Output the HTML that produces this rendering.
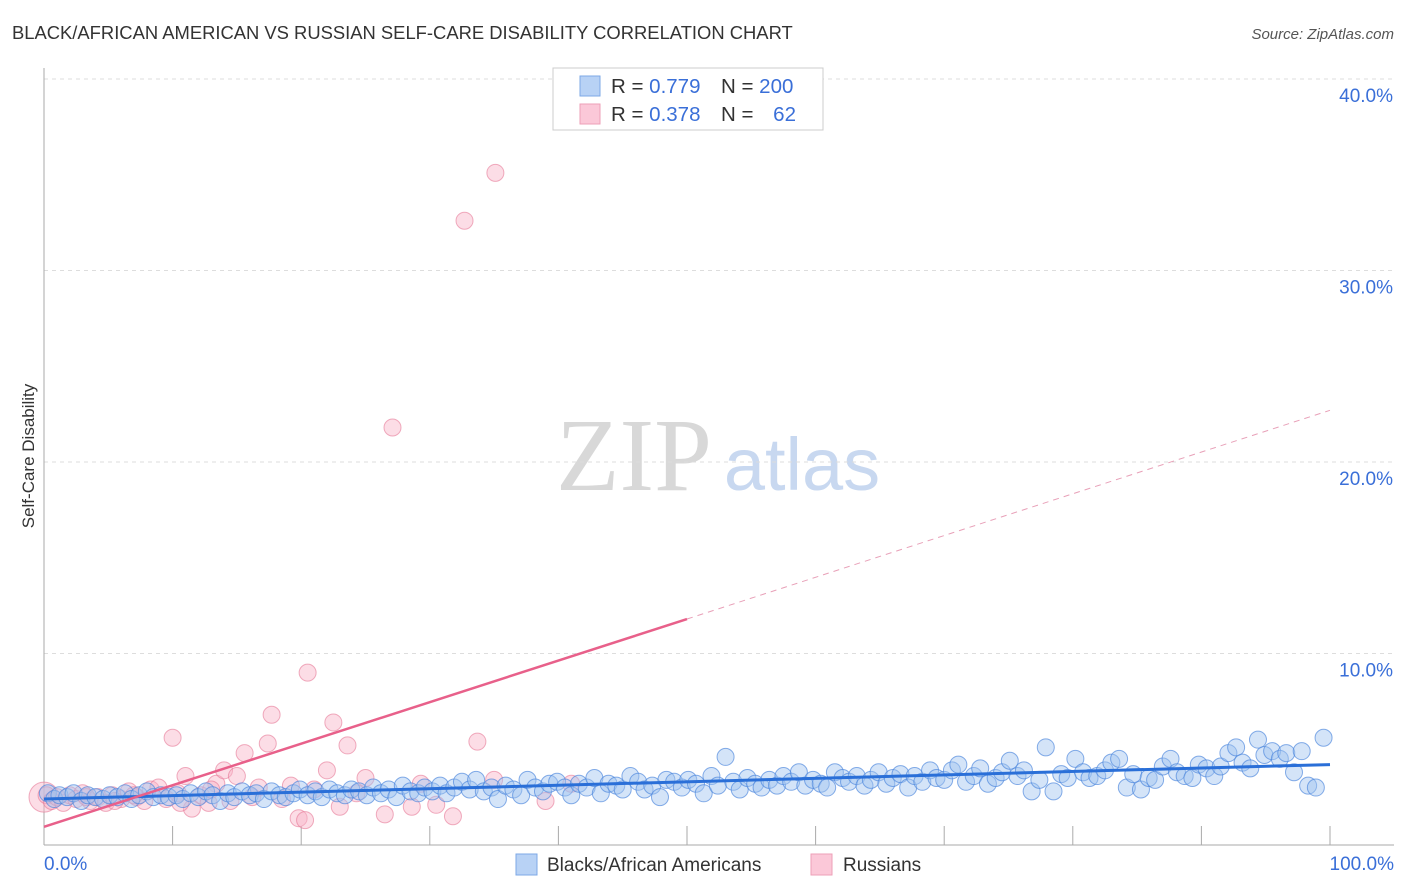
<!DOCTYPE html>
<html><head><meta charset="utf-8"><style>
body{margin:0;background:#fff;font-family:"Liberation Sans",sans-serif;}
#wrap{position:relative;width:1406px;height:892px;overflow:hidden;}
</style></head><body>
<div id="wrap">
<svg id="chart" width="1406" height="892" xmlns="http://www.w3.org/2000/svg">
<text x="12" y="39" font-size="18.4" fill="#333">BLACK/AFRICAN AMERICAN VS RUSSIAN SELF-CARE DISABILITY CORRELATION CHART</text>
<text x="1394" y="39" font-size="15" fill="#555" font-style="italic" text-anchor="end">Source: ZipAtlas.com</text>
<text x="34" y="456" font-size="17" fill="#333" text-anchor="middle" transform="rotate(-90 34 456)">Self-Care Disability</text>
<g><text x="634" y="490" font-size="104" fill="#d8d8d8" font-family="Liberation Serif,serif" text-anchor="middle">ZIP</text><text x="802" y="490" font-size="74" fill="#c8d8f0" text-anchor="middle">atlas</text></g>
<g id="grid"></g><g id="axes"></g><g id="pink"></g><g id="blue"></g><g id="trend"></g>
<g>
<rect x="553" y="68" width="270" height="62" fill="#fff" stroke="#ccc"/>
<rect x="580" y="76" width="20" height="20" fill="#b8d2f5" stroke="#7ea8e6"/>
<rect x="580" y="104" width="20" height="20" fill="#fbc8d8" stroke="#ee9fb7"/>
<text x="611" y="93" font-size="20.5" fill="#333">R = <tspan fill="#3a6fd8">0.779</tspan></text><text x="721" y="93" font-size="20.5" fill="#333">N = <tspan fill="#3a6fd8">200</tspan></text>
<text x="611" y="121" font-size="20.5" fill="#333">R = <tspan fill="#3a6fd8">0.378</tspan></text><text x="721" y="121" font-size="20.5" fill="#333">N = <tspan fill="#3a6fd8" dx="14">62</tspan></text>
</g>
<g>
<rect x="516" y="854" width="21" height="21" fill="#b8d2f5" stroke="#7ea8e6"/><text x="547" y="871" font-size="19" fill="#333">Blacks/African Americans</text>
<rect x="811" y="854" width="21" height="21" fill="#fbc8d8" stroke="#ee9fb7"/><text x="843" y="871" font-size="19" fill="#333">Russians</text>
</g>
</svg></div>
<script>
const yTicks=[10,20,30,40];
const xTickLabels=["0.0%","100.0%"];
const blueX=[0.3,0.8,1.2,1.8,2.3,2.9,3.4,4.0,4.6,5.1,5.7,6.3,6.8,7.4,8.0,8.5,9.1,9.7,
10.3,10.8,11.4,12.0,12.6,13.1,13.7,14.3,14.8,15.4,16.0,16.5,17.1,17.7,18.3,18.8,19.4,19.9,
20.5,21.1,21.6,22.2,22.8,23.4,23.9,24.5,25.1,25.6,26.2,26.8,27.4,27.9,28.5,29.1,29.6,
30.2,30.8,31.3,31.9,32.5,33.1,33.6,34.2,34.8,35.3,35.9,36.5,37.1,37.6,38.2,38.8,39.3,39.9,
40.5,41.0,41.6,42.2,42.8,43.3,43.9,44.5,45.0,45.6,46.2,46.7,47.3,47.9,48.4,49.0,49.6,
50.1,50.7,51.3,51.9,52.4,53.0,53.6,54.1,54.7,55.3,55.8,56.4,57.0,57.5,58.1,58.7,59.2,59.8,
60.4,60.9,61.5,62.1,62.6,63.2,63.8,64.3,64.9,65.5,66.0,66.6,67.2,67.7,68.3,68.9,69.4,
70.0,70.6,71.1,71.7,72.3,72.8,73.4,74.0,74.5,75.1,75.7,76.2,76.8,77.4,77.9,78.5,79.1,79.6,
80.2,80.8,81.3,81.9,82.5,83.0,83.6,84.2,84.7,85.3,85.9,86.4,87.0,87.6,88.1,88.7,89.3,89.8,
90.4,91.0,91.5,92.1,92.7,93.2,93.8,94.4,94.9,95.5,96.1,96.6,97.2,97.8,98.3,98.9,99.5];
const blueY=[2.7,2.4,2.6,2.5,2.7,2.3,2.6,2.5,2.4,2.6,2.5,2.7,2.4,2.6,2.8,2.5,2.6,2.5,
2.6,2.4,2.7,2.5,2.8,2.6,2.3,2.7,2.5,2.8,2.6,2.7,2.4,2.8,2.6,2.5,2.7,2.9,
2.6,2.8,2.5,2.9,2.7,2.6,2.9,2.8,2.6,3.0,2.7,2.9,2.5,3.1,2.8,2.7,3.0,
2.8,3.1,2.7,3.0,3.3,2.9,3.4,2.8,3.0,2.4,3.1,2.9,2.6,3.4,3.0,2.8,3.2,3.3,
3.0,2.6,3.2,3.0,3.5,2.7,3.2,3.1,2.9,3.6,3.3,2.9,3.1,2.5,3.4,3.3,3.0,
3.4,3.2,2.7,3.6,3.1,4.6,3.3,2.9,3.5,3.2,3.0,3.4,3.1,3.6,3.3,3.8,3.1,3.4,
3.2,3.0,3.8,3.5,3.3,3.6,3.1,3.4,3.8,3.2,3.5,3.7,3.0,3.6,3.3,3.9,3.5,
3.4,3.9,4.2,3.3,3.6,4.0,3.2,3.5,3.8,4.4,3.6,3.9,2.8,3.4,5.1,2.8,3.7,3.5,
4.5,3.8,3.5,3.6,3.9,4.3,4.5,3.0,3.7,2.9,3.5,3.4,4.1,4.5,3.8,3.6,3.5,4.2,
4.0,3.6,4.1,4.8,5.1,4.3,4.0,5.5,4.7,4.9,4.5,4.8,3.8,4.9,3.1,3.0,5.6];
const pinkX=[0.2,0.6,1.0,1.5,2.0,2.5,3.0,3.6,4.2,4.8,5.3,6.0,6.6,7.2,7.8,8.3,8.9,9.5,10.0,10.4,11.0,11.5,12.2,12.8,13.4,14.0,14.5,15.0,15.6,16.2,16.7,17.4,17.7,18.5,19.2,20.5,19.8,20.3,21.0,22.0,22.5,23.0,23.6,24.3,26.5,25.0,27.1,28.6,29.3,30.5,31.8,32.7,33.7,35.1,35.0,39.0,41.0,10.6,13.0,3.3,5.5,7.0];
const pinkY=[2.6,2.3,2.5,2.2,2.6,2.4,2.7,2.3,2.5,2.2,2.6,2.4,2.8,2.5,2.3,2.9,3.0,2.4,5.6,2.7,3.6,1.9,2.6,2.2,3.2,3.9,2.3,3.6,4.8,2.5,3.0,5.3,6.8,2.4,3.1,9.0,1.4,1.3,2.9,3.9,6.4,2.0,5.2,2.7,1.6,3.5,21.8,2.0,3.2,2.1,1.5,32.6,5.4,35.1,3.4,2.3,3.2,2.2,2.9,2.5,2.3,2.6];
const blueTrend=[2.4,4.2];
const pinkTrend=[0.95,11.8,22.7];
const NS="http://www.w3.org/2000/svg";
const X0=44,X1=1330,Y0=845,PPY=19.15;
function sx(v){return X0+(X1-X0)*v/100;}
function sy(v){return Y0-v*PPY;}
function mk(tag,attrs,parent){const e=document.createElementNS(NS,tag);for(const k in attrs)e.setAttribute(k,attrs[k]);document.getElementById(parent).appendChild(e);return e;}
yTicks.forEach(t=>{
 const l=mk('line',{x1:X0,x2:1394,y1:sy(t),y2:sy(t),stroke:'#ddd','stroke-dasharray':'4,4'},'grid');
 
 
 const tx=mk('text',{x:1393,y:sy(t)+23,'font-size':19,fill:'#3a6fd8','text-anchor':'end'},'grid');
 tx.textContent=t.toFixed(1)+'%';
 
 
});
mk('line',{x1:X0,x2:X0,y1:68,y2:Y0,stroke:'#aaa'},'axes');
const xa=mk('line',{x1:X0,x2:1394,y1:Y0,y2:Y0,stroke:'#aaa'},'axes');


for(let i=1;i<=10;i++){mk('line',{x1:sx(i*10),x2:sx(i*10),y1:826,y2:Y0,stroke:'#aaa'},'axes');}
const xl0=mk('text',{x:44,y:870,'font-size':19,fill:'#3a6fd8'},'axes');xl0.textContent=xTickLabels[0];


const xl1=mk('text',{x:1394,y:870,'font-size':19,fill:'#3a6fd8','text-anchor':'end'},'axes');xl1.textContent=xTickLabels[1];


const big=mk('circle',{cx:sx(0),cy:sy(2.5),r:15,fill:'rgba(248,180,200,0.45)',stroke:'rgba(230,120,150,0.6)'},'pink');


pinkX.forEach((x,i)=>{const c=mk('circle',{cx:sx(x),cy:sy(pinkY[i]),r:8.5,fill:'rgba(248,180,200,0.45)',stroke:'rgba(230,120,150,0.6)'},'pink');
 
 });
blueX.forEach((x,i)=>{const c=mk('circle',{cx:sx(x),cy:sy(blueY[i]),r:8.5,fill:'rgba(160,195,240,0.45)',stroke:'rgba(70,130,220,0.65)'},'blue');
 
 });
const bt=mk('line',{x1:sx(0),y1:sy(blueTrend[0]),x2:sx(100),y2:sy(blueTrend[1]),stroke:'#2a6fd8','stroke-width':3},'trend');


const pt=mk('line',{x1:sx(0),y1:sy(pinkTrend[0]),x2:sx(50),y2:sy(pinkTrend[1]),stroke:'#e8608a','stroke-width':2.5},'trend');


const pd=mk('line',{x1:sx(50),y1:sy(pinkTrend[1]),x2:sx(100),y2:sy(pinkTrend[2]),stroke:'#e8a0b8','stroke-width':1,'stroke-dasharray':'6,5'},'trend');


</script>
</body></html>
